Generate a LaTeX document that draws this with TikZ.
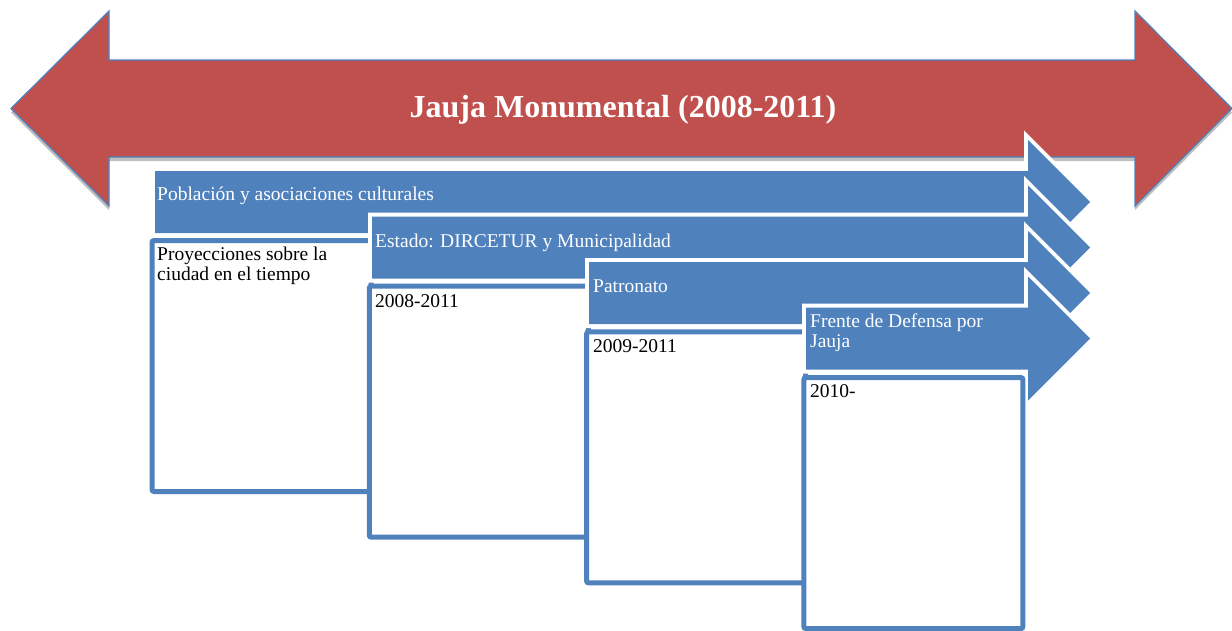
\documentclass[tikz,border=0pt]{standalone}
\usepackage{fontspec}
\setmainfont{Liberation Serif}
\usetikzlibrary{shadows}
\definecolor{redA}{HTML}{C0504D}
\definecolor{blueA}{HTML}{4F81BD}
\tikzset{
  redarrow/.style={fill=redA, draw=blueA, line width=1.2pt, line join=miter,
     drop shadow={shadow xshift=0pt, shadow yshift=-4pt, opacity=0.25, fill=black}},
  arrowout/.style={draw=white, line width=8pt, fill=blueA, line join=miter},
  arrowfill/.style={fill=blueA},
  boxst/.style={draw=blueA, line width=5pt, fill=white, rounded corners=2pt},
  lbl/.style={inner sep=0pt, anchor=base west, text=white, font=\fontsize{19.5}{20}\selectfont, align=left},
  btxt/.style={inner sep=0pt, anchor=base west, text=black, font=\fontsize{19.5}{20}\selectfont, align=left},
}
\begin{document}
\begin{tikzpicture}[x=1pt,y=-1pt]
\useasboundingbox (0,0) rectangle (1232,630);
\path[redarrow] (11,108.5) -- (109,11) -- (109,60) -- (1135,60) -- (1135,11) -- (1232,108.5)
   -- (1135,206) -- (1135,157) -- (109,157) -- (109,206) -- cycle;
\node[inner sep=0pt, anchor=base, text=white, font=\fontsize{32}{38}\selectfont\bfseries] (title) at (623,117) {Jauja Monumental (2008-2011)};
\foreach \i in {0,1,2,3}{
  \pgfmathsetmacro\ax{155+217*\i}
  \pgfmathsetmacro\at{171+45.5*\i}
  \pgfmathsetmacro\ab{\at+62}
  \pgfmathsetmacro\hc{\at+31}
  \pgfmathsetmacro\ht{\at-31}
  \pgfmathsetmacro\hb{\ab+31}
  \path[arrowout] (\ax,\at) -- (1028,\at) -- (1028,\ht) -- (1090,\hc) -- (1028,\hb) -- (1028,\ab) -- (\ax,\ab) -- cycle;
  \path[arrowfill] (\ax,\at) -- (1028,\at) -- (1028,\ht) -- (1090,\hc) -- (1028,\hb) -- (1028,\ab) -- (\ax,\ab) -- cycle;
  \pgfmathsetmacro\bx{152+217.3*\i}
  \pgfmathsetmacro\by{240.5+45.7*\i}
  \draw[boxst] (\bx,\by) rectangle ++(219,251);
}
\node[lbl] (a1) at (157,200) {Población y asociaciones culturales};
\node[lbl] (a2) at (375,247) {Estado: DIRCETUR y Municipalidad};
\node[lbl] (a3) at (593,292) {Patronato};
\node[lbl] (a4) at (810,347) {Frente de Defensa por\\Jauja};
\node[btxt] (b1) at (157,280) {Proyecciones sobre la\\ciudad en el tiempo};
\node[btxt] (b2) at (375,307) {2008-2011};
\node[btxt] (b3) at (593,352) {2009-2011};
\node[btxt] (b4) at (810,397) {2010-};
\end{tikzpicture}
\end{document}
